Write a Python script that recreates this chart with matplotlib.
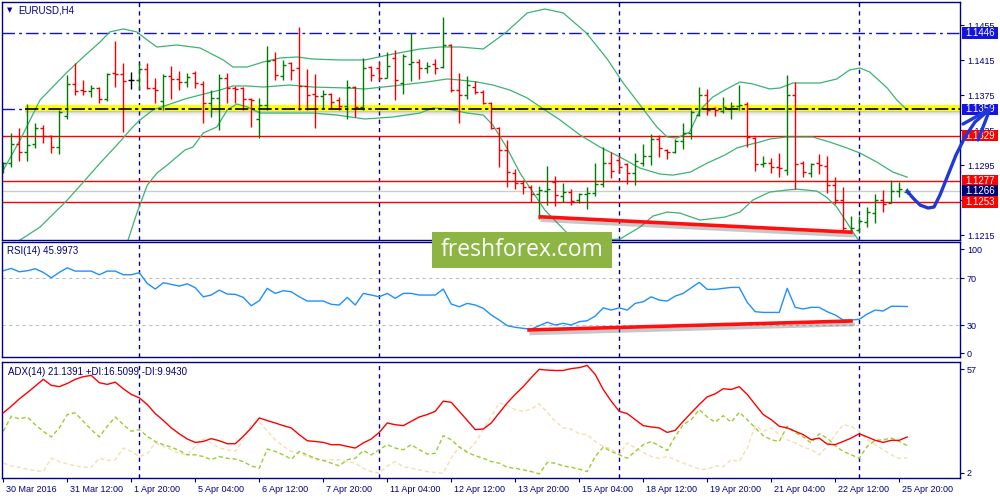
import numpy as np
import matplotlib.pyplot as plt
import matplotlib.patheffects as pe
import matplotlib.transforms as mtransforms
from matplotlib.lines import Line2D
from matplotlib.patches import Rectangle

plt.rcParams['font.family'] = ['Liberation Sans', 'DejaVu Sans']

NAVY = '#000080'

# EURUSD H4 bars
opens = [1.1293, 1.12975, 1.13193, 1.13101, 1.13193, 1.13376, 1.13284, 1.13158, 1.13513, 1.13879,
         1.1381, 1.13799, 1.13833, 1.13707, 1.14004, 1.13993, 1.13924, 1.13924, 1.1405, 1.13833,
         1.13685, 1.1397, 1.13936, 1.13902, 1.14004, 1.13879, 1.13662, 1.13719, 1.13947, 1.13833,
         1.13833, 1.13707, 1.13479, 1.13639, 1.14153, 1.1397, 1.14119, 1.14061, 1.13856, 1.13765,
         1.13742, 1.13765, 1.13696, 1.13627, 1.13844, 1.13616, 1.14073, 1.14061, 1.13947, 1.14176,
         1.1389, 1.14107, 1.1413, 1.14061, 1.14107, 1.14073, 1.14324, 1.1381, 1.13753, 1.13844,
         1.13787, 1.13662, 1.13376, 1.13124, 1.12861, 1.12747, 1.12701, 1.12621, 1.12656, 1.12758,
         1.12598, 1.12644, 1.12553, 1.12621, 1.12633, 1.12736, 1.12975, 1.1301, 1.12964, 1.12861,
         1.12975, 1.13056, 1.1325, 1.13124, 1.13101, 1.13227, 1.13319, 1.13524, 1.13753, 1.13604,
         1.1357, 1.13593, 1.13627, 1.1365, 1.13261, 1.12964, 1.12975, 1.1293, 1.12895, 1.13753,
         1.12975, 1.12861, 1.12975, 1.12941, 1.12724, 1.12553, 1.12199, 1.1221, 1.12302, 1.12404,
         1.12553, 1.12519, 1.12656, 1.1265]
highs = [1.12987, 1.13319, 1.13376, 1.1365, 1.13433, 1.1341, 1.13296, 1.13582, 1.13982, 1.14119,
         1.13924, 1.13867, 1.13844, 1.14004, 1.1437, 1.14119, 1.14016, 1.14119, 1.14119, 1.13947,
         1.13993, 1.14084, 1.14027, 1.14004, 1.14027, 1.13913, 1.1381, 1.13993, 1.14004, 1.13856,
         1.13844, 1.13719, 1.13719, 1.14313, 1.14244, 1.14153, 1.1413, 1.1453, 1.1405, 1.13993,
         1.1381, 1.13776, 1.1373, 1.13924, 1.13856, 1.14176, 1.14084, 1.1413, 1.14244, 1.14267,
         1.14221, 1.1446, 1.14164, 1.1413, 1.14164, 1.14644, 1.14336, 1.14004, 1.1397, 1.13913,
         1.1381, 1.13673, 1.13388, 1.13239, 1.12907, 1.12781, 1.12724, 1.12713, 1.12941, 1.12827,
         1.12747, 1.12678, 1.12633, 1.12701, 1.12975, 1.13158, 1.13101, 1.13056, 1.12975, 1.1309,
         1.13193, 1.13307, 1.13296, 1.13136, 1.1325, 1.13433, 1.13582, 1.13844, 1.13822, 1.13616,
         1.1373, 1.13673, 1.13867, 1.13673, 1.13273, 1.13056, 1.13033, 1.1309, 1.13982, 1.13902,
         1.12998, 1.12975, 1.13078, 1.13056, 1.12815, 1.12701, 1.1237, 1.1237, 1.12473, 1.12621,
         1.12667, 1.12781, 1.12758, 1.1269]
lows = [1.12861, 1.1293, 1.12998, 1.12998, 1.13147, 1.13204, 1.1309, 1.13078, 1.13479, 1.13753,
        1.13753, 1.1373, 1.13662, 1.13685, 1.13844, 1.1333, 1.13822, 1.1381, 1.13822, 1.13662,
        1.13582, 1.13707, 1.1381, 1.13844, 1.13833, 1.13433, 1.13502, 1.13353, 1.13662, 1.13662,
        1.13582, 1.13388, 1.13261, 1.13582, 1.13924, 1.13924, 1.13924, 1.13582, 1.13582, 1.13376,
        1.13604, 1.13604, 1.13582, 1.13479, 1.13502, 1.13582, 1.13913, 1.13924, 1.13947, 1.13696,
        1.13765, 1.13913, 1.13936, 1.14004, 1.13993, 1.14061, 1.13787, 1.13433, 1.13707, 1.13765,
        1.1365, 1.13365, 1.1293, 1.12701, 1.12678, 1.12621, 1.1253, 1.12336, 1.12496, 1.12484,
        1.1253, 1.12496, 1.12519, 1.1245, 1.12598, 1.12701, 1.12804, 1.12861, 1.12736, 1.12724,
        1.12941, 1.12953, 1.13044, 1.13021, 1.1309, 1.13136, 1.1325, 1.13513, 1.13524, 1.13513,
        1.13547, 1.13479, 1.13582, 1.13158, 1.12884, 1.1293, 1.12861, 1.12815, 1.12838, 1.12678,
        1.12815, 1.12815, 1.1285, 1.12633, 1.12507, 1.1221, 1.12187, 1.12176, 1.12244, 1.1229,
        1.12416, 1.12519, 1.12587, 1.12621]
closes = [1.12975, 1.13193, 1.13101, 1.13181, 1.13376, 1.13284, 1.13158, 1.13559, 1.13879, 1.13799,
          1.13799, 1.13833, 1.13707, 1.13993, 1.13993, 1.13913, 1.13924, 1.1405, 1.13833, 1.1381,
          1.1397, 1.13936, 1.13902, 1.13959, 1.1389, 1.13662, 1.13719, 1.13947, 1.13833, 1.13822,
          1.13707, 1.13696, 1.13639, 1.14141, 1.13982, 1.14096, 1.14039, 1.13856, 1.13753, 1.13742,
          1.13765, 1.13673, 1.13627, 1.13844, 1.13616, 1.14061, 1.13982, 1.13947, 1.14084, 1.13924,
          1.14198, 1.1413, 1.14061, 1.14084, 1.14061, 1.14324, 1.1381, 1.13753, 1.13867, 1.13787,
          1.13662, 1.13376, 1.13124, 1.12873, 1.12747, 1.12701, 1.12621, 1.12667, 1.12678, 1.1261,
          1.12644, 1.12541, 1.12621, 1.12633, 1.12736, 1.12975, 1.12884, 1.1293, 1.12861, 1.12998,
          1.13056, 1.1325, 1.13147, 1.13101, 1.13227, 1.13319, 1.13559, 1.13753, 1.13582, 1.13582,
          1.13616, 1.13627, 1.13639, 1.13273, 1.12964, 1.12975, 1.1293, 1.12918, 1.13753, 1.12964,
          1.12873, 1.12964, 1.12953, 1.12724, 1.12553, 1.12233, 1.12233, 1.12313, 1.12416, 1.12553,
          1.12507, 1.12656, 1.12678, 1.12656]

# Bollinger bands (bar position, price)
bb_upper_pos = [0, 2.1, 4.6, 8.0, 10, 12.1, 13.3, 15, 16.7, 18, 19.2, 21.7, 24.6, 27.5, 28.7, 30.5,
                32.5, 34.6, 36.7, 38.7, 42, 45.2, 48.7, 52.1, 54.6, 57.1, 60, 61.2, 62.9, 65.5, 67.7,
                70, 72.9, 75.5, 77.5, 79.6, 81.7, 83, 84.2, 85.8, 87.1, 88.7, 90.2, 92.1, 93.7, 95.8,
                97.1, 98.7, 102.1, 104.2, 105.8, 107.1, 108.3, 110.5, 111.7, 113]
bb_upper = [1.12895, 1.13239, 1.13696, 1.14016, 1.14187, 1.14358, 1.14473, 1.14507, 1.14473, 1.14381,
            1.14301, 1.14324, 1.1429, 1.14153, 1.14073, 1.14073, 1.1413, 1.14176, 1.14187, 1.14164,
            1.14153, 1.14153, 1.14221, 1.14278, 1.14301, 1.14301, 1.14278, 1.14358, 1.14473, 1.1469,
            1.14735, 1.1469, 1.1446, 1.14164, 1.1389, 1.13639, 1.13388, 1.13273, 1.13261, 1.1333,
            1.13582, 1.1373, 1.1381, 1.13902, 1.13879, 1.13822, 1.13833, 1.1389, 1.1389, 1.13936,
            1.14039, 1.14061, 1.14016, 1.13833, 1.13696, 1.13582]
bb_mid_pos = [0, 2.1, 4.6, 8, 10, 12.1, 14.2, 16.2, 17.1, 18.7, 20.5, 22.7, 24.6, 27.1, 28.7, 30.5,
              32.5, 35.8, 38.7, 42.9, 45.2, 48.7, 53, 55.5, 57.1, 59.2, 61.2, 63.3, 65.5, 67.7, 69.6,
              72.1, 74.6, 77.1, 79.6, 82.1, 83.7, 85.9, 88, 90.2, 91.7, 93, 94.6, 95.8, 97.9, 101.2,
              103.3, 105.5, 107.1, 109.2, 111.2, 113]
bb_mid = [1.1197, 1.12097, 1.12245, 1.12553, 1.12758, 1.12975, 1.13181, 1.13388, 1.13468, 1.13582,
          1.13639, 1.13707, 1.13753, 1.1381, 1.13856, 1.13856, 1.13844, 1.13867, 1.13844, 1.13833,
          1.13822, 1.13856, 1.13902, 1.13936, 1.13924, 1.13902, 1.13867, 1.1381, 1.13719, 1.13582,
          1.13468, 1.13296, 1.13158, 1.13044, 1.12918, 1.1285, 1.12838, 1.12873, 1.12975, 1.13067,
          1.13147, 1.13181, 1.13216, 1.1325, 1.13273, 1.13273, 1.13216, 1.13147, 1.1309, 1.12987,
          1.12873, 1.12815]
bb_lower_pos = [14.5, 15.6, 16.7, 18, 19.2, 20.5, 22.7, 23.7, 25, 26.7, 28, 29.2, 30.5, 32.1, 34.6,
                38.7, 41.7, 45.2, 48.7, 52.1, 53.7, 55.5, 58, 60, 61.2, 62.9, 64.6, 66.2, 67.7, 70.5,
                72.9, 75.5, 77.1, 79.6, 81.2, 83, 84.6, 87.1, 90.2, 92.1, 93.7, 95.8, 97.9, 99.2,
                101.7, 102.9, 104.2, 105.5, 106.8, 108.3, 110.5, 113]
bb_lower = [1.1185, 1.12097, 1.12404, 1.12724, 1.12861, 1.12953, 1.13124, 1.13158, 1.13319, 1.13388,
            1.13582, 1.1365, 1.13616, 1.13547, 1.13547, 1.13547, 1.13524, 1.13479, 1.13502, 1.13547,
            1.13604, 1.13593, 1.13547, 1.13524, 1.1341, 1.13158, 1.12861, 1.12644, 1.12439, 1.12176,
            1.1213, 1.1210, 1.12108, 1.12245, 1.1237, 1.12416, 1.12404, 1.12324, 1.12359, 1.12416,
            1.12553, 1.12644, 1.12667, 1.12678, 1.12656, 1.12587, 1.12473, 1.1229, 1.12108, 1.1202,
            1.1203, 1.1205]

rsi = [76.5, 78.5, 75.6, 76.5, 78.2, 75.1, 70.5, 75.1, 79.0, 76.2, 76.2, 76.2, 73.1, 76.2, 76.2, 73.1,
       73.1, 74.8, 65.7, 60.9, 66.3, 64.9, 63.4, 65.4, 62.0, 54.3, 55.8, 60.0, 56.6, 56.4, 53.8, 46.7,
       50.9, 61.5, 57.2, 59.5, 58.6, 54.3, 50.7, 50.7, 50.7, 47.9, 47.3, 53.8, 47.3, 57.2, 55.8, 54.3,
       57.2, 53.0, 57.2, 57.2, 55.8, 55.8, 55.8, 60.9, 48.1, 45.8, 48.7, 47.3, 44.5, 38.8, 34.5, 29.7,
       28.3, 27.4, 26.8, 29.7, 32.6, 30.3, 31.7, 30.3, 33.1, 33.9, 37.9, 44.9, 43.0, 44.9, 43.0, 48.7,
       50.1, 54.3, 51.5, 50.7, 54.9, 57.2, 62.0, 66.6, 60.6, 60.6, 61.5, 62.3, 62.3, 49.6, 41.6, 41.0,
       41.0, 41.0, 61.5, 45.3, 43.9, 45.3, 45.3, 41.6, 38.8, 34.5, 34.5, 35.1, 39.6, 43.0, 42.2, 46.2,
       46.2, 46.0]

adx = [33.9, 37.4, 41.3, 44.6, 48.1, 51.7, 48.5, 47.8, 49.5, 51.7, 53.1, 53.8, 49.9, 49.0, 50.2, 46.7,
       43.7, 41.9, 38.3, 33.5, 29.9, 25.9, 22.8, 20.0, 18.2, 18.7, 20.2, 19.1, 17.5, 17.5, 21.4, 25.9,
       31.2, 29.8, 28.5, 27.1, 25.9, 22.3, 19.1, 18.7, 18.2, 17.0, 17.0, 16.1, 15.2, 17.9, 20.0, 23.5,
       28.5, 27.6, 27.1, 29.4, 31.7, 33.0, 34.7, 40.1, 39.5, 34.7, 29.9, 25.0, 25.3, 28.5, 33.9, 39.2,
       43.7, 47.8, 52.6, 57.0, 56.6, 56.4, 56.4, 57.4, 57.9, 59.1, 54.3, 46.3, 40.1, 34.7, 33.5, 30.3,
       27.1, 26.4, 25.9, 23.5, 24.6, 29.4, 33.9, 38.3, 42.4, 44.0, 46.7, 46.3, 47.8, 43.7, 38.3, 33.0,
       30.3, 26.8, 25.9, 24.1, 22.3, 19.6, 20.5, 17.3, 17.0, 18.7, 20.5, 22.8, 21.1, 19.3, 18.2, 19.3,
       19.3, 21.1]
plus_di = [24.1, 32.1, 30.7, 31.7, 27.6, 24.1, 21.1, 25.9, 33.0, 33.9, 29.4, 25.0, 21.1, 26.8, 31.7,
           27.6, 24.1, 25.0, 21.4, 18.7, 17.0, 15.7, 13.9, 11.6, 11.6, 10.7, 9.0, 10.7, 9.8, 9.3, 8.0,
           5.7, 4.5, 14.7, 13.4, 11.6, 9.3, 13.4, 11.6, 9.8, 8.6, 7.2, 5.7, 9.0, 9.8, 13.9, 11.6, 14.3,
           17.0, 15.2, 14.3, 17.0, 14.3, 12.0, 12.4, 21.8, 19.6, 15.7, 12.9, 11.1, 9.8, 8.0, 7.2, 5.0,
           4.5, 3.6, 2.7, 1.5, 7.5, 7.2, 5.7, 5.0, 4.0, 2.7, 10.7, 15.7, 13.4, 11.6, 9.8, 13.4, 17.0,
           18.7, 16.4, 13.9, 21.4, 27.6, 30.3, 35.6, 31.7, 28.9, 32.4, 28.9, 34.2, 30.3, 25.9, 21.8,
           19.6, 18.7, 26.8, 23.5, 21.1, 17.9, 22.8, 20.5, 16.4, 13.4, 11.6, 9.8, 16.1, 19.3, 19.6,
           20.5, 18.7, 16.5]
minus_di = [7.2, 5.7, 5.0, 4.0, 3.2, 2.7, 9.8, 8.0, 6.8, 5.7, 5.0, 5.0, 9.8, 8.6, 9.0, 15.2, 13.4,
            10.7, 12.2, 17.9, 16.1, 14.3, 12.4, 11.6, 16.1, 20.0, 17.9, 15.2, 14.3, 13.4, 19.6, 27.6,
            29.4, 24.1, 19.6, 16.1, 13.4, 12.4, 10.7, 9.0, 8.6, 9.0, 9.0, 8.0, 7.2, 4.5, 2.7, 1.8, 5.7,
            8.0, 5.3, 4.5, 3.6, 2.7, 2.2, 1.8, 9.8, 16.1, 13.4, 17.9, 25.0, 32.1, 39.2, 37.8, 35.6,
            34.7, 35.9, 38.7, 34.2, 29.4, 25.9, 25.3, 22.8, 22.3, 18.7, 16.1, 14.7, 11.6, 17.9, 15.2,
            12.9, 10.7, 9.8, 10.7, 9.0, 7.2, 5.7, 4.0, 4.0, 5.7, 5.3, 9.0, 8.0, 15.2, 27.1, 24.1, 25.9,
            22.3, 19.6, 17.9, 15.7, 14.3, 11.6, 16.1, 22.3, 27.6, 26.8, 24.1, 19.6, 17.0, 14.3, 11.6,
            9.8, 9.9]

date_labels = ['30 Mar 2016', '31 Mar 12:00', '1 Apr 20:00', '5 Apr 04:00', '6 Apr 12:00',
               '7 Apr 20:00', '11 Apr 04:00', '12 Apr 12:00', '13 Apr 20:00', '15 Apr 04:00',
               '18 Apr 12:00', '19 Apr 20:00', '21 Apr 04:00', '22 Apr 12:00', '25 Apr 20:00']
week_starts = [17, 47, 77, 107]

support_levels = [1.1329, 1.1277, 1.1253]
bid = 1.1266
top_level = 1.1446
key_level = 1.1359
price_trend = ([66.9, 106.2], [1.12363, 1.12185])
rsi_trend = ([65.5, 106.2], [26.0, 33.7])

x = np.arange(len(closes))
bar_col = ['#007a00' if c > o else '#f00000' if c < o else '#000000' for o, c in zip(opens, closes)]

fig = plt.figure(figsize=(10, 5), dpi=100)
ax_p = fig.add_axes([0.002, 0.52, 0.958, 0.476])
ax_r = fig.add_axes([0.002, 0.286, 0.958, 0.23])
ax_a = fig.add_axes([0.002, 0.044, 0.958, 0.232])

for ax in (ax_p, ax_r, ax_a):
    ax.set_xlim(-0.16, 119.6)
    for s in ax.spines.values():
        s.set_color(NAVY)
        s.set_linewidth(1)
    for w in week_starts:
        ax.axvline(w, color=NAVY, lw=1, ls=(0, (3, 3)), zorder=1)
    ax.yaxis.tick_right()
    ax.tick_params(axis='y', colors=NAVY, labelsize=6.5, length=3, pad=2)
    ax.tick_params(axis='x', colors=NAVY, labelsize=6.5, length=3, pad=2)

# ---- price panel ----
ax_p.set_ylim(1.12097, 1.14815)
dd = (0, (9, 3, 2, 3))
ax_p.axhline(top_level, color='#1010d0', lw=1, ls=dd, zorder=1)
ax_p.axhline(key_level, color='#1010d0', lw=1, ls=dd, zorder=1)
tr = mtransforms.blended_transform_factory(ax_p.transAxes, ax_p.transData)
for k, a in enumerate([0.4, 0.26, 0.15, 0.07]):
    ax_p.add_patch(Rectangle((0.024, 1.1357 - 0.00013 * (k + 1)), 0.976, 0.00013, transform=tr,
                             fc='#707070', ec='none', alpha=a, zorder=1))
ax_p.add_patch(Rectangle((0.024, 1.1357), 0.976, 0.0007, transform=tr, fc='#ffff00', ec='none', zorder=1))
ax_p.plot([0.024, 1.0], [key_level, key_level], transform=tr, color='black', lw=1.2,
          ls=(0, (8, 2, 2, 2)), zorder=3)
for lvl in support_levels:
    ax_p.axhline(lvl, color='#ff0000', lw=1, zorder=1.5)
ax_p.axhline(bid, color='#cccccc', lw=1, zorder=1.2)

for pos, vals in ((bb_upper_pos, bb_upper), (bb_mid_pos, bb_mid), (bb_lower_pos, bb_lower)):
    ax_p.plot(pos, vals, color='#3cb371', lw=0.9, zorder=1.8)

ax_p.vlines(x, lows, highs, colors=bar_col, lw=1, zorder=2)
ax_p.hlines(opens, x - 0.4, x, colors=bar_col, lw=1, zorder=2)
ax_p.hlines(closes, x, x + 0.4, colors=bar_col, lw=1, zorder=2)

shadow = [pe.SimpleLineShadow(offset=(1.5, -2.5), shadow_color='#606060', alpha=0.35), pe.Normal()]
ax_p.plot(*price_trend, color='#ff1010', lw=2.6, solid_capstyle='butt', path_effects=shadow, zorder=4)

yt = np.arange(1.1215, 1.1456, 0.004)
ax_p.set_yticks(yt, ['' if abs(v - 1.1255) < 1e-6 else f'{v:.4f}' for v in yt])
ax_p.set_xticks([])

# value boxes on the price scale
boxes = [(top_level, '#1414e0'), (key_level, '#1414e0'), (1.1329, '#ff0000'),
         (1.1277, '#ff0000'), (bid, '#000070'), (1.1253, '#ff0000')]
half = 0.00064
for val, fc in boxes:
    ax_p.add_patch(Rectangle((1.002, val - half), 0.0375, 2 * half, transform=tr, fc=fc,
                             ec='none', clip_on=False, zorder=5))
    ax_p.text(1.021, val, f'{val:.4f}', transform=tr, ha='center', va='center', color='white',
              fontsize=7, zorder=6)

ax_p.text(0.0075, 0.966, '\u25bc', transform=ax_p.transAxes, fontsize=5, color=NAVY,
          va='center', ha='center', family='DejaVu Sans')
ax_p.text(0.0167, 0.966, 'EURUSD,H4', transform=ax_p.transAxes, fontsize=7, color=NAVY, va='center')

# ---- RSI panel ----
ax_r.set_ylim(3, 101)
for lvl in (70, 30):
    ax_r.axhline(lvl, color='#c0c0c0', lw=0.8, ls=(0, (3, 3)), zorder=1)
ax_r.plot(x, rsi, color='#1e90ff', lw=1, zorder=2)
ax_r.plot(*rsi_trend, color='#ff1010', lw=2.6, solid_capstyle='butt', path_effects=shadow, zorder=4)
ax_r.set_yticks([95, 70, 30, 6], ['100', '70', '30', '0'])
ax_r.set_xticks([])
ax_r.text(0.005, 0.922, 'RSI(14) 45.9973', transform=ax_r.transAxes, fontsize=7, color=NAVY, va='center')

# ---- ADX panel ----
ax_a.set_ylim(-0.7, 60.9)
ax_a.plot(x, minus_di, color='#f5deb3', lw=1, ls=(0, (3, 2)), zorder=2)
ax_a.plot(x, plus_di, color='#9acd32', lw=1, ls=(0, (3, 2)), zorder=2)
ax_a.plot(x, adx, color='#ff0000', lw=1, zorder=3)
ax_a.set_yticks([57, 2], ['57', '2'])
ax_a.set_xticks(np.arange(0, 113, 8), date_labels)
off = mtransforms.ScaledTranslation(3 / 100, 0, fig.dpi_scale_trans)
for lab in ax_a.get_xticklabels():
    lab.set_horizontalalignment('left')
    lab.set_transform(lab.get_transform() + off)
ax_a.text(0.006, 0.914, 'ADX(14) 21.1391 +DI:16.5099 -DI:9.9430', transform=ax_a.transAxes,
          fontsize=7, color=NAVY, va='center')

# watermark
fig.patches.append(Rectangle((0.432, 0.464), 0.18, 0.072, transform=fig.transFigure,
                             fc='#8db543', ec='none', zorder=10))
fig.text(0.522, 0.499, 'freshforex.com', color='white', fontsize=16.5, family='Open Sans',
         ha='center', va='center', zorder=11)

# hand-drawn forecast arrow (pixel path)
arrow_px = [(907, 191), (913, 198), (920, 205), (928, 208), (934, 207), (940, 195), (948, 175),
            (956, 155), (965, 137), (975, 122), (989, 110)]
head_px = [(963, 124), (990, 109), (978, 140)]
for pts in (arrow_px, head_px):
    fig.add_artist(Line2D([p[0] / 1000 for p in pts], [1 - p[1] / 500 for p in pts],
                          transform=fig.transFigure, color='#2038d8', lw=2.4,
                          solid_capstyle='round', solid_joinstyle='round', zorder=12))

fig.savefig('out.png', dpi=100)
